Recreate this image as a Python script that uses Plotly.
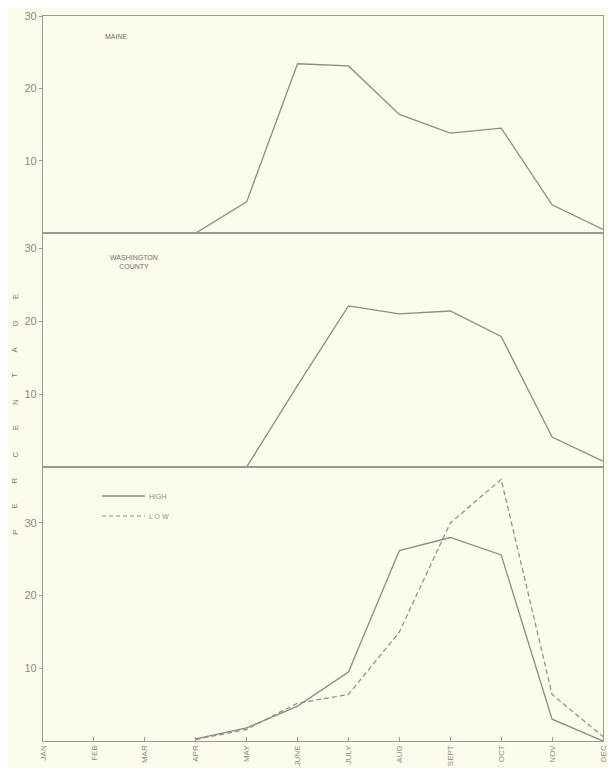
import plotly.graph_objects as go
from plotly.subplots import make_subplots

months = ["JAN", "FEB", "MAR", "APR", "MAY", "JUNE", "JULY", "AUG", "SEPT", "OCT", "NOV", "DEC"]
maine = [None, None, None, 0, 4.3, 23.4, 23.1, 16.4, 13.8, 14.5, 3.9, 0.5]
washington = [None, None, None, None, 0, 11.2, 22.1, 21.0, 21.4, 17.9, 4.1, 0.8]
high = [None, None, None, 0.3, 1.8, 4.8, 9.5, 26.2, 28.0, 25.6, 3.0, 0.0]
low = [None, None, None, 0.2, 1.6, 5.2, 6.4, 15.0, 30.0, 36.0, 6.4, 0.6]
y_ticks = [10, 20, 30]

LINE = "#8c8c84"
AX = "#9a9a90"
TXT = "#8a8a82"
BG = "#fcfcec"
FONT = "Liberation Sans"

# page has an 8px body margin; work in page pixels and convert
OFF = 8
W, H = 600, 760
plot_left, plot_right = 43, 603
plot_top, plot_bot = 16, 741
ml = plot_left - OFF
mr = OFF + W - plot_right
mt = plot_top - OFF
mb = OFF + H - plot_bot
plot_h = plot_bot - plot_top
plot_w = plot_right - plot_left

def fy(ypx):
    return (plot_bot - ypx) / plot_h

def fx(xpx):
    return (xpx - plot_left) / plot_w

fig = make_subplots(rows=3, cols=1, shared_xaxes=True, vertical_spacing=0)

fig.add_trace(go.Scatter(x=months, y=maine, mode="lines", line=dict(color=LINE, width=1.3),
                         showlegend=False), row=1, col=1)
fig.add_trace(go.Scatter(x=months, y=washington, mode="lines", line=dict(color=LINE, width=1.3),
                         showlegend=False), row=2, col=1)
fig.add_trace(go.Scatter(x=months, y=high, mode="lines", line=dict(color=LINE, width=1.3),
                         showlegend=False), row=3, col=1)
fig.add_trace(go.Scatter(x=months, y=low, mode="lines", line=dict(color=LINE, width=1.2, dash="5px,3px"),
                         showlegend=False), row=3, col=1)

b1, b2 = fy(233), fy(467)
doms = {1: [b1, 1.0], 2: [b2, b1], 3: [0.0, b2]}
ranges = {1: [0, 30], 2: [0, 32.1], 3: [0, 37.7]}

for r in (1, 2, 3):
    fig.update_yaxes(row=r, col=1, domain=doms[r], range=ranges[r], tickvals=y_ticks,
                     ticks="outside", ticklen=3, tickcolor=AX, showgrid=False, zeroline=False,
                     showline=True, linecolor=AX, linewidth=1.2, mirror=True, automargin=False,
                     tickfont=dict(family=FONT, size=11, color=TXT))
    fig.update_xaxes(row=r, col=1, type="category", range=[0, 11], showgrid=False, zeroline=False,
                     showline=True, linecolor=AX, linewidth=1.2, mirror=True, automargin=False,
                     categoryorder="array", categoryarray=months)

fig.update_xaxes(row=3, col=1, tickvals=months, ticktext=months, tickangle=-90,
                 ticks="inside", ticklen=4, tickcolor=AX, showticklabels=True,
                 tickfont=dict(family=FONT, size=8, color=TXT))
fig.update_xaxes(row=1, col=1, showticklabels=False)
fig.update_xaxes(row=2, col=1, showticklabels=False)

lab = dict(family=FONT, size=7, color="#707068")
annotations = [
    dict(x=fx(103), y=fy(37), xref="paper", yref="paper", text="MAINE", showarrow=False,
         xanchor="left", yanchor="middle", font=lab),
    dict(x=fx(134), y=fy(262), xref="paper", yref="paper", text="WASHINGTON<br>COUNTY",
         showarrow=False, xanchor="center", yanchor="middle", font=lab),
    dict(x=fx(147), y=fy(496), xref="paper", yref="paper", text="HIGH", showarrow=False,
         xanchor="left", yanchor="middle", font=dict(family=FONT, size=7, color="#909088")),
    dict(x=fx(147), y=fy(516), xref="paper", yref="paper", text="L O W", showarrow=False,
         xanchor="left", yanchor="middle", font=dict(family=FONT, size=7, color="#909088")),
]
word = "PERCENTAGE"
for i, ch in enumerate(word):
    ypx = 533 - i * 26.2
    annotations.append(dict(x=fx(15), y=fy(ypx), xref="paper", yref="paper", text=ch,
                            showarrow=False, textangle=-90, xanchor="center", yanchor="middle",
                            font=dict(family=FONT, size=8, color="#7a7a72")))

shapes = [
    dict(type="line", xref="paper", yref="paper", x0=fx(102), x1=fx(145),
         y0=fy(496), y1=fy(496), line=dict(color=LINE, width=1.3)),
    dict(type="line", xref="paper", yref="paper", x0=fx(102), x1=fx(145),
         y0=fy(516), y1=fy(516), line=dict(color=LINE, width=1.1, dash="4px,3px")),
]

fig.update_layout(width=W, height=H, margin=dict(l=ml, r=mr, t=mt, b=mb, autoexpand=False),
                  paper_bgcolor=BG, plot_bgcolor=BG, annotations=annotations, shapes=shapes,
                  showlegend=False)

fig.write_html("out.html")
